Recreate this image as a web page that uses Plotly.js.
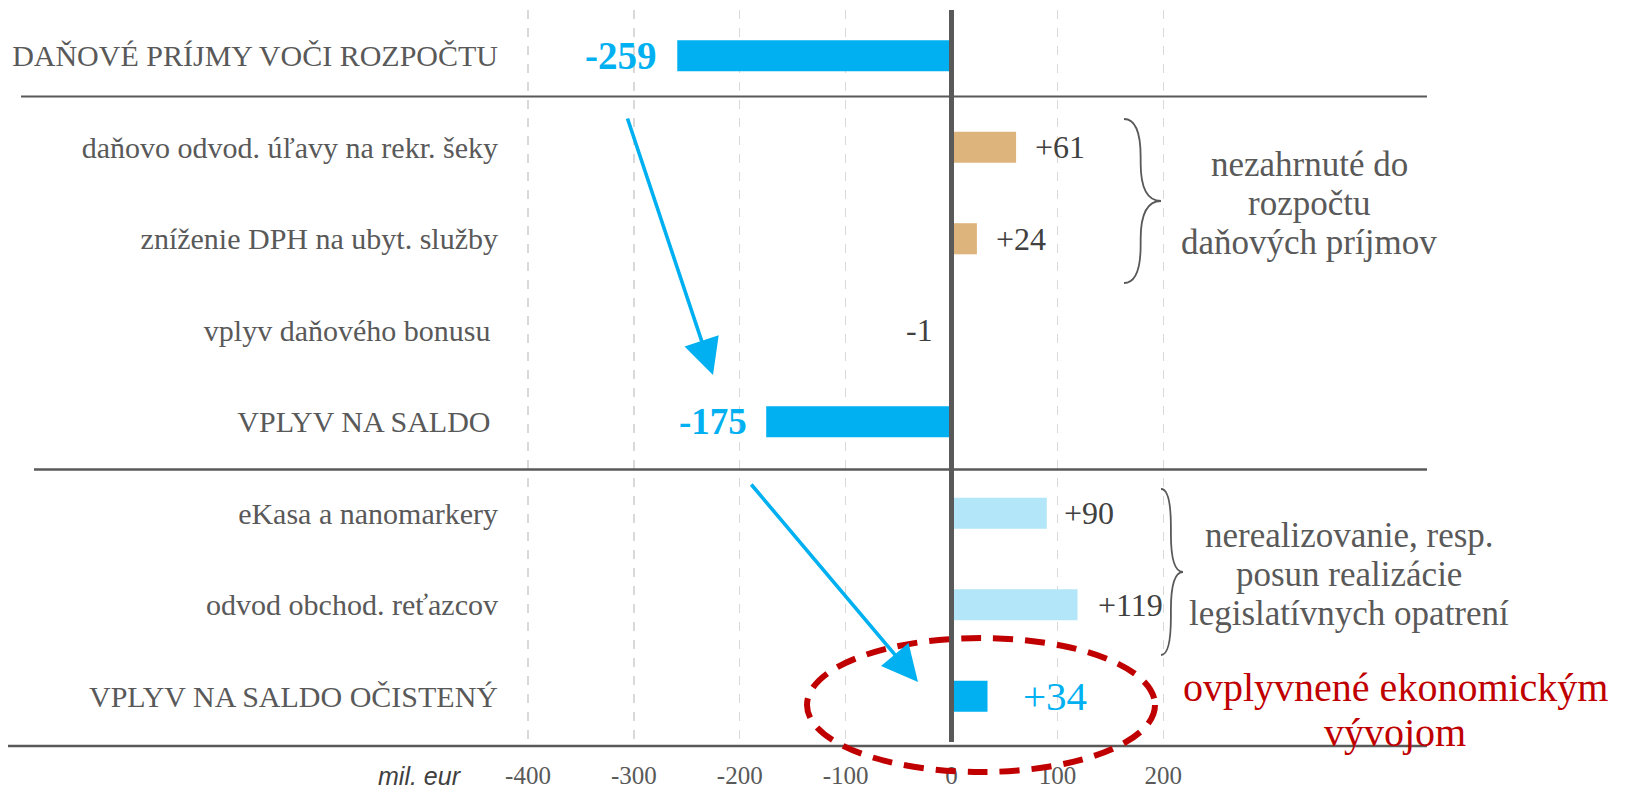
<!DOCTYPE html>
<html><head><meta charset="utf-8">
<script src="https://cdn.plot.ly/plotly-3.0.1.min.js"></script>
<style>html,body{margin:0;padding:0;background:#fff}#chart{width:1625px;height:792px}</style>
</head><body><div id="chart"></div>
<script>
// ---- data ----
const categories = ["DAŇOVÉ PRÍJMY VOČI ROZPOČTU", "daňovo odvod. úľavy na rekr. šeky", "zníženie DPH na ubyt. služby", "vplyv daňového bonusu\u00a0", "VPLYV NA SALDO\u00a0", "eKasa a nanomarkery", "odvod obchod. reťazcov", "VPLYV NA SALDO OČISTENÝ"];
const values = [-259, 61, 24, -1, -175, 90, 119, 34];
const tickVals = [-400, -300, -200, -100, 0, 100, 200];
const tickText = ["-400", "-300", "-200", "-100", "0", "100", "200"];
const axisUnit = "mil. eur";
const group1Text = ["nezahrnuté do", "rozpočtu", "daňových príjmov"];
const group2Text = ["nerealizovanie, resp.", "posun realizácie", "legislatívnych opatrení"];
const noteText = ["ovplyvnené ekonomickým", "vývojom"];

// ---- styles ----
const CYAN = "#00B0F0", TAN = "#DDB57C", LIGHT = "#B3E6F8", DARK = "#404040", GRAY = "#595959", RED = "#C00000";
const barColors = [CYAN, TAN, TAN, CYAN, CYAN, LIGHT, LIGHT, CYAN];
const labelStyle = [
  {color: CYAN, bold: true, size: 39, gap: 18},
  {color: DARK, bold: false, size: 32, gap: 17},
  {color: DARK, bold: false, size: 32, gap: 17},
  {color: DARK, bold: false, size: 32, gap: 15},
  {color: CYAN, bold: true, size: 37, gap: 17},
  {color: DARK, bold: false, size: 32, gap: 15},
  {color: DARK, bold: false, size: 32, gap: 18},
  {color: CYAN, bold: false, size: 41, gap: 33}
];
const SERIF = "Liberation Serif, Times New Roman, serif";

// ---- geometry ----
const W = 1625, H = 792, L = 506, R = 1427, T = 10, B = 742;
const zeroPx = 951.5, pxPerUnit = 1.0588;
const xmin = (L - zeroPx) / pxPerUnit, xmax = (R - zeroPx) / pxPerUnit;
const fx = p => (p - L) / (R - L);
const fy = p => (B - p) / (B - T);

function bracePath(xl, xr, yt, yb, r) {
  const xm = xl + (xr - xl) * 0.45, ym = (yt + yb) / 2;
  const P = (x, y) => fx(x).toFixed(5) + "," + fy(y).toFixed(5);
  return "M" + P(xl, yt) + " Q" + P(xm, yt) + " " + P(xm, yt + r) +
    " L" + P(xm, ym - r) + " Q" + P(xm, ym) + " " + P(xr, ym) +
    " Q" + P(xm, ym) + " " + P(xm, ym + r) +
    " L" + P(xm, yb - r) + " Q" + P(xm, yb) + " " + P(xl, yb);
}

const trace = {
  type: "bar", orientation: "h",
  y: categories, x: values,
  marker: {color: barColors},
  width: 0.34, hoverinfo: "skip"
};

const annotations = [];
values.forEach((v, i) => {
  const s = labelStyle[i];
  const txt = (v > 0 ? "+" : "") + String(v);
  annotations.push({
    x: v, y: categories[i], xref: "x", yref: "y",
    text: s.bold ? "<b>" + txt + "</b>" : txt,
    showarrow: false,
    xanchor: v < 0 ? "right" : "left",
    xshift: v < 0 ? -s.gap : s.gap,
    font: {family: SERIF, size: s.size, color: s.color}
  });
});

// group texts
const g1y = [165, 204, 243];
group1Text.forEach((t, i) => annotations.push({
  x: fx(1309), y: fy(g1y[i]), xref: "paper", yref: "paper", text: t, showarrow: false,
  xanchor: "center", yanchor: "middle", font: {family: SERIF, size: 35, color: GRAY}
}));
const g2y = [535, 574, 613];
group2Text.forEach((t, i) => annotations.push({
  x: fx(1349), y: fy(g2y[i]), xref: "paper", yref: "paper", text: t, showarrow: false,
  xanchor: "center", yanchor: "middle", font: {family: SERIF, size: 35, color: GRAY}
}));
const ny = [687, 732];
noteText.forEach((t, i) => annotations.push({
  x: fx(1395), y: fy(ny[i]), xref: "paper", yref: "paper", text: t, showarrow: false,
  xanchor: "center", yanchor: "middle", font: {family: SERIF, size: 40, color: RED}
}));

// unit label
annotations.push({
  x: fx(420), y: fy(776), xref: "paper", yref: "paper", text: "<i>" + axisUnit + "</i>",
  showarrow: false, xanchor: "center", yanchor: "middle",
  font: {family: "Liberation Sans, Arial, sans-serif", size: 25, color: DARK}
});

// arrows
[[713, 375, 627, 117], [918, 682, 750, 483]].forEach(a => annotations.push({
  x: fx(a[0]), y: fy(a[1]), xref: "paper", yref: "paper",
  ax: a[2] - a[0], ay: a[3] - a[1], axref: "pixel", ayref: "pixel",
  text: "", showarrow: true, arrowhead: 2, arrowsize: 2, arrowwidth: 3.6,
  arrowcolor: CYAN, standoff: 0
}));

const shapes = [
  {type: "line", xref: "paper", yref: "paper", x0: fx(21), x1: fx(1427), y0: fy(96.5), y1: fy(96.5), line: {color: GRAY, width: 2}},
  {type: "line", xref: "paper", yref: "paper", x0: fx(34), x1: fx(1427), y0: fy(469.5), y1: fy(469.5), line: {color: GRAY, width: 2.5}},
  {type: "line", xref: "paper", yref: "paper", x0: fx(8), x1: fx(1427), y0: fy(746), y1: fy(746), line: {color: GRAY, width: 2.5}},
  {type: "line", xref: "x", yref: "paper", layer: "above", x0: 0, x1: 0, y0: 0, y1: 1, line: {color: GRAY, width: 5}},
  {type: "path", xref: "paper", yref: "paper", path: bracePath(1124, 1161, 119, 283, 38), line: {color: GRAY, width: 1.8}},
  {type: "path", xref: "paper", yref: "paper", path: bracePath(1161, 1183, 489, 655, 38), line: {color: GRAY, width: 1.8}},
  {type: "circle", xref: "paper", yref: "paper", layer: "above", x0: fx(807), x1: fx(1155), y0: fy(772), y1: fy(638), line: {color: RED, width: 6, dash: "20px,12px"}}
];

const layout = {
  width: W, height: H,
  margin: {l: L, r: W - R, t: T, b: H - B, pad: 0},
  paper_bgcolor: "#ffffff", plot_bgcolor: "#ffffff",
  showlegend: false,
  xaxis: {
    range: [xmin, xmax], tickmode: "array", tickvals: tickVals, ticktext: tickText,
    showgrid: true, gridcolor: "#d9d9d9", griddash: "dash", gridwidth: 1.5,
    zeroline: false,
    showline: false, ticks: "", ticklabelstandoff: 16,
    tickfont: {family: SERIF, size: 25, color: GRAY}, fixedrange: true
  },
  yaxis: {
    type: "category", categoryorder: "array", categoryarray: categories,
    range: [7.5, -0.5], showgrid: false, zeroline: false, showline: false, ticks: "",
    ticklabelstandoff: 7,
    tickfont: {family: SERIF, size: 30, color: GRAY}, fixedrange: true
  },
  annotations: annotations,
  shapes: shapes
};

Plotly.newPlot("chart", [trace], layout, {displayModeBar: false, staticPlot: true});
</script>
</body></html>
